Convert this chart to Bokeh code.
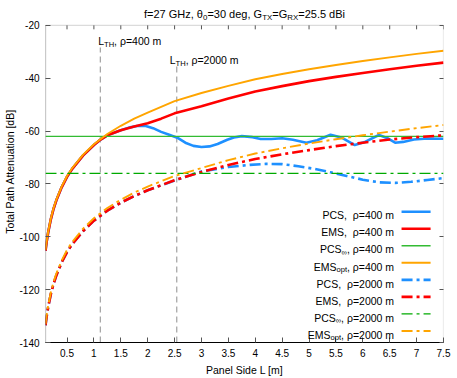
from bokeh.plotting import figure
from bokeh.models import Range1d, LinearAxis, FixedTicker, Label, CustomJSTickFormatter, BoxAnnotation
from bokeh.embed import file_html
from bokeh.resources import INLINE

FONT = "Liberation Sans"

# ---------------- data ----------------
# EMS_opt, rho = 400 m
L_emsopt = [0.10, 0.12, 0.15, 0.20, 0.25, 0.30, 0.40, 0.50, 0.60, 0.80, 1.00, 1.25, 1.50, 1.75,
            2.00, 2.50, 3.00, 3.50, 4.00, 4.50, 5.00, 5.50, 6.00, 6.50, 7.00, 7.50]
emsopt_400 = [-105.0, -101.8, -98.0, -93.0, -89.1, -86.0, -81.0, -77.0, -73.9, -68.9, -65.0, -61.1,
              -58.0, -55.3, -53.0, -48.7, -45.6, -42.9, -40.4, -38.4, -36.6, -35.0, -33.5, -32.1,
              -30.8, -29.6]

# EMS, rho = 400 m
L_ems = [0.10, 0.12, 0.15, 0.20, 0.25, 0.30, 0.40, 0.50, 0.60, 0.80, 1.00, 1.125, 1.25, 1.50, 1.75,
         2.00, 2.25, 2.50, 3.00, 3.50, 4.00, 4.50, 5.00, 5.50, 6.00, 6.50, 7.00, 7.50]
ems_400 = [-105.3, -102.1, -98.3, -93.3, -89.4, -86.3, -81.3, -77.3, -74.2, -69.2, -65.3, -63.2,
           -61.6, -59.7, -58.3, -57.0, -55.3, -53.3, -50.6, -47.7, -45.0, -43.0, -41.1, -39.5,
           -38.0, -36.6, -35.3, -34.1]

# PCS, rho = 400 m
L_pcs = [0.10, 0.12, 0.15, 0.20, 0.25, 0.30, 0.40, 0.50, 0.60, 0.80,
         1.00, 1.125, 1.25, 1.50, 1.65, 1.80, 1.95, 2.10, 2.25, 2.40,
         2.55, 2.70, 2.85, 3.00, 3.15, 3.30, 3.48, 3.60, 3.75, 3.95,
         4.10, 4.30, 4.50, 4.70, 4.95, 5.15, 5.40, 5.60, 5.85, 6.05,
         6.30, 6.45, 6.60, 6.75, 6.95, 7.20, 7.50]
pcs_400 = [-105.3, -102.1, -98.3, -93.3, -89.4, -86.3, -81.3, -77.3, -74.2, -69.2,
           -65.3, -63.2, -61.6, -59.7, -58.7, -58.1, -58.0, -58.9, -60.3, -61.4,
           -62.5, -64.4, -65.6, -66.0, -65.8, -64.9, -63.3, -62.4, -61.9, -62.3,
           -63.0, -63.0, -62.7, -63.3, -64.4, -63.5, -61.4, -62.4, -65.3, -64.0,
           -61.5, -62.6, -64.4, -64.1, -63.2, -62.8, -62.9]

# rho = 2000 m
L_2k = [0.10, 0.12, 0.15, 0.20, 0.25, 0.30, 0.40, 0.50, 0.60, 0.80, 1.00, 1.25, 1.50, 1.75,
        2.00, 2.50, 3.00, 3.50, 4.00, 4.50, 5.00, 5.50, 6.00, 6.50, 7.00, 7.50]
emsopt_2000 = [-133.0, -129.8, -126.0, -121.0, -117.1, -114.0, -109.0, -105.0, -101.9, -96.9,
               -93.0, -89.1, -86.0, -83.3, -81.0, -77.0, -74.0, -71.0, -68.5, -66.5, -64.7,
               -63.1, -61.6, -60.2, -58.9, -57.7]
ems_2000 = [-133.5, -130.3, -126.6, -121.6, -117.8, -114.7, -109.7, -105.8, -102.7, -97.8,
            -93.9, -90.1, -87.1, -84.6, -82.4, -78.6, -75.5, -72.8, -70.6, -68.8, -67.2,
            -65.7, -64.4, -63.2, -62.3, -61.6]

L_pcs2k = [0.10, 0.12, 0.15, 0.20, 0.25, 0.30, 0.40, 0.50, 0.60, 0.80,
           1.00, 1.25, 1.50, 1.75, 2.00, 2.50, 3.00, 3.50, 3.90, 4.20,
           4.50, 4.80, 5.10, 5.40, 5.70, 6.00, 6.30, 6.60, 6.90, 7.20, 7.50]
pcs_2000 = [-133.5, -130.3, -126.6, -121.6, -117.8, -114.7, -109.7, -105.8, -102.7, -97.8,
            -93.9, -90.1, -87.1, -84.6, -82.4, -78.7, -75.3, -73.6, -72.8, -72.4,
            -72.5, -73.3, -74.3, -75.6, -77.0, -78.4, -79.4, -79.6, -79.2, -78.5, -77.8]

pcs_inf_400 = -62.0
pcs_inf_2000 = -76.0

L_th = [1.12, 2.54]          # threshold panel sides
L_th_top = [-28.4, -35.5]    # where the dashed marker lines stop

x_min, x_max = 0.1, 7.5
y_min, y_max = -140, -20
x_ticks = [i * 0.5 for i in range(1, 16)]
y_ticks = [-140, -120, -100, -80, -60, -40, -20]

# ---------------- styles ----------------
BLUE = "#1e90ff"
RED = "#ff0000"
GREEN = "#33bb33"
GREEN2 = "#00aa00"
ORANGE = "#ffa500"
DASHDOT = "11 4 3 4"
PX_PER_DB = 2.658            # vertical scale of the frame
HEAD_DB = 25 / PX_PER_DB     # room above the plot box for the title

W = {' ': 278, ',': 278, '.': 278, '=': 584, 'ρ': 565, 'θ': 556, '∞': 712, 'f': 278, 'G': 778,
     'H': 722, 'z': 500, 'd': 556, 'e': 556, 'g': 556, 'T': 611, 'X': 667, 'R': 722, 'B': 667,
     'i': 222, 'b': 556, 'L': 556, 'P': 667, 'C': 722, 'S': 667, 'E': 667, 'M': 833, 'm': 833,
     'o': 556, 'p': 556, 't': 278, '\u00a0': 278}


def tw(s, size):
    return sum(W.get(c, 556) for c in s) / 1000.0 * size


def rich(p, x, y, parts, size, align="left", dy=0.0):
    sub_size = size * 0.72
    widths = [tw(t, sub_size if sub else size) for t, sub in parts]
    total = sum(widths)
    off = {"left": 0.0, "right": -total, "center": -total / 2}[align]
    for (t, sub), w in zip(parts, widths):
        p.add_layout(Label(x=x, y=y, x_offset=off, y_offset=dy + (-3.0 if sub else 0.0), text=t,
                           text_font=FONT, text_font_size=f"{sub_size if sub else size:.1f}px",
                           text_align="left", text_baseline="alphabetic", text_color="black"))
        off += w


p = figure(width=457, height=378, output_backend="svg", toolbar_location=None,
           x_range=Range1d(x_min, x_max), y_range=Range1d(y_min, y_max + HEAD_DB),
           min_border_left=45, min_border_right=14, min_border_top=0, min_border_bottom=34)
p.background_fill_color = "white"
p.border_fill_color = "white"
p.outline_line_color = None
p.grid.visible = False

fmt = CustomJSTickFormatter(code="return tick.toString()")
blank = CustomJSTickFormatter(code="return ''")

for ax in p.xaxis:
    ax.ticker = FixedTicker(ticks=x_ticks)
    ax.formatter = fmt
    ax.axis_label = "Panel Side L [m]"
    ax.axis_line_color = "black"
    ax.axis_line_width = 1.2
for ax in p.yaxis:
    ax.ticker = FixedTicker(ticks=y_ticks)
    ax.formatter = fmt
    ax.axis_label = "Total Path Attenuation [dB]"
    ax.axis_line_color = None

for ax in list(p.xaxis) + list(p.yaxis):
    ax.major_tick_in = 5
    ax.major_tick_out = 0
    ax.major_tick_line_color = "#555555"
    ax.minor_tick_line_color = None
    ax.major_label_text_font = FONT
    ax.major_label_text_font_size = "10px"
    ax.major_label_text_color = "black"
    ax.axis_label_text_font = FONT
    ax.axis_label_text_font_size = "10.5px"
    ax.axis_label_text_font_style = "normal"
    ax.axis_label_text_color = "black"
p.xaxis.major_label_standoff = 6
p.xaxis.axis_label_standoff = 4
p.yaxis.major_label_standoff = 6
p.yaxis.axis_label_standoff = 0

right_ax = LinearAxis(ticker=FixedTicker(ticks=y_ticks), formatter=blank, axis_line_color=None,
                      major_tick_in=4, major_tick_out=0, minor_tick_line_color=None,
                      major_tick_line_color="#555555", major_label_standoff=0)
p.add_layout(right_ax, "right")

# plot box: gray top/right, black left (bottom is the x axis line)
p.add_layout(BoxAnnotation(left=x_min, right=x_max, bottom=y_min, top=y_max, fill_alpha=0,
                           line_color="#888888", line_width=1.2, level="underlay"))
p.add_layout(BoxAnnotation(left=x_min, right=x_min, bottom=y_min, top=y_max, fill_alpha=0,
                           line_color="black", line_width=1.2))
# mirrored ticks on the top edge
p.segment(x0=x_ticks, x1=x_ticks, y0=[y_max] * len(x_ticks),
          y1=[y_max - 4 / PX_PER_DB] * len(x_ticks), line_color="#555555", line_width=1)

# threshold markers
p.segment(x0=L_th, x1=L_th, y0=[y_min, y_min], y1=L_th_top, line_color="#a8a8a8",
          line_width=1.3, line_dash="6 4")

# rho = 400 m series
p.line(L_pcs, pcs_400, line_color=BLUE, line_width=2.6)
p.line(L_ems, ems_400, line_color=RED, line_width=2.6)
p.line([x_min, x_max], [pcs_inf_400, pcs_inf_400], line_color=GREEN, line_width=1.3)
p.line(L_emsopt, emsopt_400, line_color=ORANGE, line_width=1.9)

# rho = 2000 m series
p.line(L_pcs2k, pcs_2000, line_color=BLUE, line_width=2.6, line_dash=DASHDOT)
p.line(L_2k, ems_2000, line_color=RED, line_width=2.6, line_dash=DASHDOT)
p.line([x_min, x_max], [pcs_inf_2000, pcs_inf_2000], line_color=GREEN2, line_width=1.3,
       line_dash=DASHDOT)
p.line(L_2k, emsopt_2000, line_color=ORANGE, line_width=1.9, line_dash=DASHDOT)

# legend (gnuplot style: text then sample)
leg_rows = [-90.5 - 6.45 * k for k in range(8)]
leg_styles = [(BLUE, 2.6, "solid"), (RED, 2.6, "solid"), (GREEN, 1.3, "solid"), (ORANGE, 1.9, "solid"),
              (BLUE, 2.6, DASHDOT), (RED, 2.6, DASHDOT), (GREEN2, 1.3, DASHDOT), (ORANGE, 1.9, DASHDOT)]
leg_texts = [
    [("PCS,\u00a0 ρ=400 m", False)],
    [("EMS,\u00a0 ρ=400 m", False)],
    [("PCS", False), ("∞", True), (", ρ=400 m", False)],
    [("EMS", False), ("opt", True), (", ρ=400 m", False)],
    [("PCS,\u00a0 ρ=2000 m", False)],
    [("EMS,\u00a0 ρ=2000 m", False)],
    [("PCS", False), ("∞", True), (", ρ=2000 m", False)],
    [("EMS", False), ("opt", True), (", ρ=2000 m", False)],
]
for yrow, (c, w, d), parts in zip(leg_rows, leg_styles, leg_texts):
    p.line([6.72, 7.26], [yrow, yrow], line_color=c, line_width=w, line_dash=d)
    rich(p, 6.58, yrow, parts, 10.5, "right", dy=-3.7)

# threshold labels
rich(p, 1.08, -24.6, [("L", False), ("TH", True), (", ρ=400 m", False)], 10.5, "left", dy=-3.7)
rich(p, 2.41, -31.8, [("L", False), ("TH", True), (", ρ=2000 m", False)], 10.5, "left", dy=-3.7)

# title
rich(p, (x_min + x_max) / 2, y_max + 15 / PX_PER_DB,
     [("f=27 GHz, θ", False), ("0", True), ("=30 deg, G", False), ("TX", True),
      ("=G", False), ("RX", True), ("=25.5 dBi", False)], 11, "center", dy=-3.9)

open("out.html", "w").write(file_html(p, INLINE))
